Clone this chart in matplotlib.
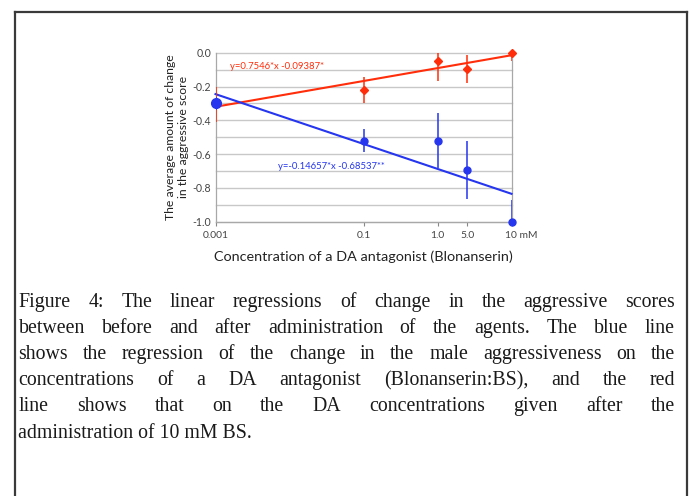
import numpy as np
import matplotlib.pyplot as plt
from matplotlib.lines import Line2D
import matplotlib.transforms as mtransforms

# 横轴：浓度（位置按对数十倍程排列，5.0 位置取自原图）
conc_labels = ['0.001', '0.1', '1.0', '5.0', '10 mM']
x_pos = [0, 2, 3, 3.4, 4]

# 红色：DA 浓度（10 mM BS 之后）
red_mean = [-0.305, -0.22, -0.05, -0.095, 0.0]
red_err = [0.105, 0.075, 0.12, 0.083, 0.05]
# 蓝色：DA 拮抗剂浓度
blue_mean = [-0.30, -0.52, -0.52, -0.695, -1.0]
blue_err = [0.04, 0.07, 0.165, 0.17, 0.13]

# 回归线两端
fit_x = [0, 4]
red_fit = [-0.32, -0.015]
blue_fit = [-0.245, -0.835]

y_ticks = [-1.0, -0.8, -0.6, -0.4, -0.2, 0.0]
y_tick_labels = ['-1.0', '-0.8', '-0.6', '-0.4', '-0.2', '0.0']

red_eq = 'y=0.7546*x -0.09387*'
blue_eq = 'y=-0.14657*x -0.68537**'

caption_lines = [
    'Figure 4: The linear regressions of change in the aggressive scores',
    'between before and after administration of the agents. The blue line',
    'shows the regression of the change in the male aggressiveness on the',
    'concentrations of a DA antagonist (Blonanserin:BS), and the red',
    'line shows that on the DA concentrations given after the',
    'administration of 10 mM BS.',
]

RED = '#ff2d0a'
BLUE = '#2536ee'
GRID = '#c8c8c8'
W, H = 693, 496

plt.rcParams['font.family'] = ['Lato', 'DejaVu Sans']

fig = plt.figure(figsize=(W / 100, H / 100), dpi=100)
ax = fig.add_axes([215.5 / W, 1 - 221.7 / H, 296 / W, 169 / H])

ax.set_xlim(0, 4)
ax.set_ylim(-1.0, 0.0)

# 网格线
for yv in np.arange(-10, 1) / 10:
    ax.axhline(yv, color=GRID, lw=1.0, zorder=0)

ax.spines['top'].set_visible(False)
for s in ['left', 'bottom', 'right']:
    ax.spines[s].set_color('#a8a8a8')
    ax.spines[s].set_linewidth(0.9)

ax.set_yticks(y_ticks)
ax.set_yticklabels(y_tick_labels)
ax.tick_params(axis='y', length=0, pad=3, labelsize=7.6, colors='#444444')
ax.set_xticks(x_pos)
ax.set_xticklabels(conc_labels)
ax.tick_params(axis='x', length=3, width=0.8, color='#888888', pad=3.5,
               labelsize=7.4, labelcolor='#444444')
last = ax.get_xticklabels()[-1]
last.set_horizontalalignment('left')
last.set_transform(last.get_transform() +
                   mtransforms.ScaledTranslation(-7 / 100, 0, fig.dpi_scale_trans))

# 回归线
ax.plot(fit_x, red_fit, color=RED, lw=1.5, zorder=3)
ax.plot(fit_x, blue_fit, color=BLUE, lw=1.5, zorder=4)

# 误差条与数据点
ax.errorbar(x_pos, red_mean, yerr=red_err, fmt='D', color=RED, ms=4.2,
            elinewidth=1.1, capsize=0, zorder=5)
ax.errorbar(x_pos, blue_mean, yerr=blue_err, fmt='o', color=BLUE, ms=5,
            elinewidth=1.1, capsize=0, zorder=6)
ax.plot(x_pos[0], blue_mean[0], 'o', color=BLUE, ms=7, zorder=7)
for line in ax.lines:
    line.set_clip_on(False)

ax.text(0.19, -0.08, red_eq, color=RED, fontsize=6.8, va='center')
ax.text(0.84, -0.675, blue_eq, color=BLUE, fontsize=6.8, va='center')

ax.set_xlabel('Concentration of a DA antagonist (Blonanserin)', fontsize=10.4,
              color='#222222', labelpad=8)
ax.set_ylabel('The average amount of change\nin the aggressive score', fontsize=8.8,
              color='#222222', labelpad=3, linespacing=1.2)

# 外框
def fx(px):
    return px / W

def fy(py):
    return 1 - py / H

for xs, ys in [([15, 15], [12, H]), ([15, 687], [12, 12]), ([687, 687], [12, H])]:
    fig.add_artist(Line2D([fx(v) for v in xs], [fy(v) for v in ys],
                          color='#3a3a3a', lw=1.6))

# 两端对齐的图注
renderer = fig.canvas.get_renderer()
left, right = 18.5, 675.0
base0, step = 307.0, 26.1
cap_font = dict(family='Liberation Serif', fontsize=14.3, color='#1a1a1a')

for i, line in enumerate(caption_lines):
    yb = fy(base0 + i * step)
    words = line.split(' ')
    if i == len(caption_lines) - 1:
        fig.text(fx(left), yb, line, va='baseline', ha='left', **cap_font)
        continue
    texts = [fig.text(0, yb, w, va='baseline', ha='left', **cap_font) for w in words]
    widths = [t.get_window_extent(renderer).width for t in texts]
    gap = (right - left - sum(widths)) / (len(words) - 1)
    xcur = left
    for t, wd in zip(texts, widths):
        t.set_x(fx(xcur))
        xcur += wd + gap

fig.savefig('out.png', dpi=100)
